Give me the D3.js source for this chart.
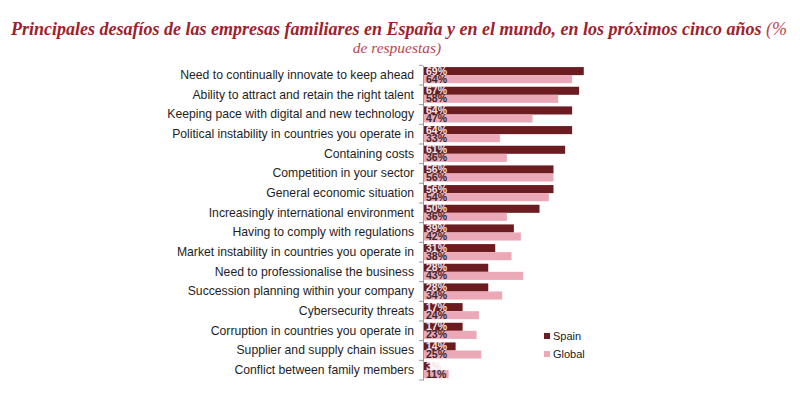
<!DOCTYPE html>
<html>
<head>
<meta charset="utf-8">
<script src="https://cdn.jsdelivr.net/npm/d3@7"></script>
<style>
  body { margin: 0; background: #fff; }
  svg { display: block; }
</style>
</head>
<body>
<svg width="800" height="393"></svg>
<script>
const categories = [
  "Need to continually innovate to keep ahead",
  "Ability to attract and retain the right talent",
  "Keeping pace with digital and new technology",
  "Political instability in countries you operate in",
  "Containing costs",
  "Competition in your sector",
  "General economic situation",
  "Increasingly international environment",
  "Having to comply with regulations",
  "Market instability in countries you operate in",
  "Need to professionalise the business",
  "Succession planning within your company",
  "Cybersecurity threats",
  "Corruption in countries you operate in",
  "Supplier and supply chain issues",
  "Conflict between family members"
]
const spain = [69, 67, 64, 64, 61, 56, 56, 50, 39, 31, 28, 28, 17, 17, 14, 3]
const global = [64, 58, 47, 33, 36, 56, 54, 36, 42, 38, 43, 34, 24, 23, 25, 11]
const seriesNames = ["Spain", "Global"]
const colors = ["#6a1c20", "#eba8b6"]

const svg = d3.select("svg")

// title
const title = svg.append("text")
    .attr("x", 399)
    .attr("y", 35)
    .attr("text-anchor", "middle")
    .style("font-family", "'Liberation Serif', 'DejaVu Serif', serif")
    .style("font-style", "italic")
    .style("font-size", "18px")
title.append("tspan")
    .style("font-weight", "bold")
    .attr("fill", "#a0202c")
    .text("Principales desafíos  de las empresas familiares  en España  y en el mundo, en los próximos cinco años ")
title.append("tspan")
    .attr("fill", "#c0444e")
    .text(" (%")
svg.append("text")
    .attr("x", 397)
    .attr("y", 53)
    .attr("text-anchor", "middle")
    .style("font-family", "'Liberation Serif', 'DejaVu Serif', serif")
    .style("font-style", "italic")
    .style("font-size", "15.5px")
    .attr("fill", "#c0444e")
    .text("de respuestas)")

const x0 = 423
const x = d3.scaleLinear().domain([0, 100]).range([x0, x0 + 233])
const y = d3.scaleBand().domain(categories).range([65.3, 380]).paddingInner(0.18).paddingOuter(0.09)
const sub = d3.scaleBand().domain(seriesNames).range([0, y.bandwidth()])

const rows = categories.map((c, i) => ({cat: c, values: [spain[i], global[i]]}))

// bars
const g = svg.append("g")
const row = g.selectAll(".row")
    .data(rows)
    .enter()
    .append("g")
    .attr("class", "row")
    .attr("transform", d => `translate(0,${y(d.cat)})`)

row.selectAll("rect")
    .data(d => d.values.map((v, k) => ({v: v, k: k})))
    .enter()
    .append("rect")
    .attr("x", x(0))
    .attr("y", d => sub(seriesNames[d.k]))
    .attr("width", d => x(d.v) - x(0))
    .attr("height", sub.bandwidth())
    .attr("fill", d => colors[d.k])

row.selectAll(".val")
    .data(d => d.values.map((v, k) => ({v: v, k: k})))
    .enter()
    .append("text")
    .attr("class", "val")
    .attr("x", x(0) + 3)
    .attr("y", d => sub(seriesNames[d.k]) + sub.bandwidth() / 2 + 3.6)
    .style("font-family", "'Liberation Sans', Arial, sans-serif")
    .style("font-weight", "bold")
    .style("font-size", "10.5px")
    .attr("fill", d => d.k === 0 ? "#f3e4e6" : "#3b2a2c")
    .text(d => d.v + "%")

// axis
const axis = svg.append("g")
    .attr("transform", `translate(${x0},0)`)
    .call(d3.axisLeft(y).tickSize(0).tickFormat(""))
axis.select(".domain").attr("stroke", "#9a9a9a")
axis.selectAll(".tick").remove()

const step = y.step()
const bounds = d3.range(categories.length + 1).map(i => y.range()[0] + i * step)
axis.selectAll(".bound")
    .data(bounds)
    .enter()
    .append("line")
    .attr("x1", -4).attr("x2", 0)
    .attr("y1", d => d).attr("y2", d => d)
    .attr("stroke", "#9a9a9a")

svg.append("g").selectAll("text")
    .data(categories)
    .enter()
    .append("text")
    .attr("x", 414)
    .attr("y", d => y(d) + y.bandwidth() / 2 + 4)
    .attr("text-anchor", "end")
    .style("font-family", "'Liberation Sans', Arial, sans-serif")
    .style("font-size", "12.2px")
    .attr("fill", "#1e1e1e")
    .text(d => d)

// legend
const legend = svg.append("g").attr("transform", "translate(544,333)")
const li = legend.selectAll("g")
    .data(seriesNames)
    .enter()
    .append("g")
    .attr("transform", (d, i) => `translate(0,${i * 18})`)
li.append("rect")
    .attr("width", 6).attr("height", 6)
    .attr("fill", (d, i) => colors[i])
li.append("text")
    .attr("x", 9)
    .attr("y", 7)
    .style("font-family", "'Liberation Sans', Arial, sans-serif")
    .style("font-size", "11px")
    .attr("fill", "#222")
    .text(d => d)
</script>
</body>
</html>
